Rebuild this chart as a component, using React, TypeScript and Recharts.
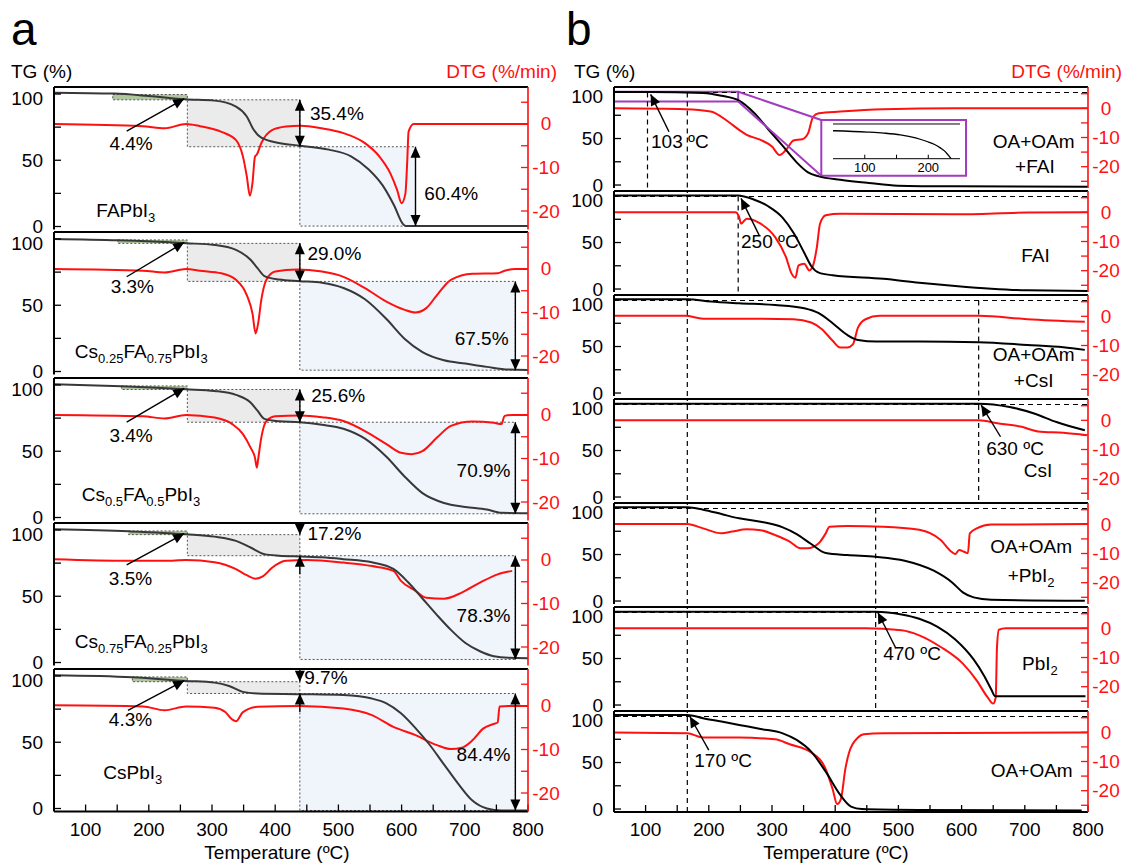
import React from "react";
import {
  ComposedChart,
  LineChart,
  Line,
  XAxis,
  YAxis,
  ReferenceArea,
  ReferenceLine,
  ReferenceDot,
} from "recharts";

type Pt = [number, number];

const FONT = "'Liberation Sans', Arial, Helvetica, sans-serif";
const RED = "#ff1010";
const PURPLE = "#a23bbd";

// shared temperature axis
const X_DOMAIN: [number, number] = [50, 800];
const X_TICKS = [100, 150, 200, 250, 300, 350, 400, 450, 500, 550, 600, 650, 700, 750, 800];
const TG_TICKS = [0, 25, 50, 75, 100];

// ---------- panel a : TG / DTG of the perovskites ----------
const FAPBI3_TG: Pt[] = [[50, 101], [145, 100.3], [200, 98.5], [258, 96], [304, 95], [338, 90.5], [355, 83], [366, 73], [378, 67], [406, 63], [440, 61], [485, 58], [520, 53], [548, 43], [570, 31], [588, 16], [602, 2], [607, 0.3], [800, 0.3]];
const FAPBI3_DTG: Pt[] = [[50, 0], [190, -0.5], [225, -1], [259, 0], [281, -0.5], [315, -1.8], [338, -3.7], [349, -7.5], [355, -12], [360, -16.5], [364, -13.6], [368, -7.5], [371, -7], [378, -4.4], [395, -1.4], [417, -0.6], [440, -0.4], [474, -1], [508, -2.1], [542, -4.4], [565, -7.5], [582, -11.3], [593, -15.2], [600, -18.2], [606, -16], [609, -8.3], [611, -1.8], [619, 0], [800, 0]];
const CS25_TG: Pt[] = [[50, 100], [151, 99], [259, 96.8], [304, 95.5], [338, 91.8], [361, 84.3], [372, 78], [383, 72], [406, 69.4], [439, 68.2], [474, 67], [508, 63], [542, 54.5], [576, 39.6], [605, 24.6], [633, 14.7], [667, 8.5], [701, 6], [735, 3.5], [769, 1.5], [800, 1.2]];
const CS25_DTG: Pt[] = [[50, 0], [191, -0.4], [225, -0.8], [259, 0], [281, -0.4], [315, -1], [338, -2.5], [355, -6], [364, -10.2], [369, -14.8], [373, -12.5], [378, -7.1], [386, -2.5], [400, -0.6], [434, -0.1], [474, -0.6], [508, -1.8], [542, -4.4], [576, -7.5], [605, -9.4], [622, -10], [639, -9], [656, -6], [678, -2.5], [712, -1.1], [752, -1], [763, -0.4], [780, 0], [800, 0]];
const CS50_TG: Pt[] = [[50, 100.5], [157, 99], [259, 96.8], [304, 95.5], [338, 92.5], [361, 86.8], [372, 80.6], [383, 74.4], [406, 72.6], [439, 71.9], [474, 70], [508, 67], [542, 59.5], [576, 45.8], [605, 30.8], [633, 18.4], [667, 11], [701, 8], [735, 6], [758, 3.5], [800, 3.3]];
const CS50_DTG: Pt[] = [[50, 0], [191, -0.3], [225, -0.8], [259, 0], [304, -0.6], [332, -2.1], [349, -4.4], [361, -7.5], [368, -9.8], [371, -12.1], [373, -10.2], [378, -5.2], [386, -1.4], [400, -0.3], [440, -0.1], [474, -0.5], [508, -1.4], [542, -3.7], [576, -6.7], [599, -8.7], [616, -9], [633, -8.3], [656, -5.2], [678, -2.5], [712, -1.5], [746, -1.8], [758, -2.1], [763, -0.2], [775, 0], [800, 0]];
const CS75_TG: Pt[] = [[50, 100.5], [168, 99], [259, 96.8], [304, 95], [338, 91.8], [361, 86.8], [383, 81.8], [406, 80.6], [439, 80], [474, 79.4], [508, 78], [553, 75.6], [587, 70.6], [610, 60.7], [633, 48.3], [656, 35.8], [678, 24.6], [701, 14.7], [724, 8.5], [746, 4.7], [769, 3.5], [800, 3.3]];
const CS75_DTG: Pt[] = [[50, 0.15], [168, -0.2], [225, -0.2], [259, 0], [304, -0.5], [338, -2.1], [355, -3.5], [369, -4.3], [381, -3.7], [395, -1.8], [417, -0.2], [451, 0], [508, -0.6], [553, -1.4], [587, -2.5], [599, -4.8], [622, -7.1], [639, -8.7], [667, -8.9], [695, -7.5], [724, -5.2], [752, -3.3], [775, -2.5]];
const CSPBI3_TG: Pt[] = [[50, 100.5], [174, 99], [259, 96.3], [304, 95], [327, 92.5], [349, 88], [372, 86.8], [439, 86.3], [508, 85.6], [553, 83], [576, 79.4], [599, 71.9], [622, 60.7], [644, 48.3], [667, 33.3], [690, 18.4], [712, 6], [735, 0], [758, -1.5], [800, -1.5]];
const CSPBI3_DTG: Pt[] = [[50, 0.15], [191, -0.1], [225, -1], [259, -0.1], [304, -0.4], [321, -1.4], [332, -3.1], [338, -3.5], [349, -1.4], [372, -0.2], [439, 0], [508, -0.6], [553, -2.1], [587, -4.8], [622, -6.7], [656, -9], [678, -9.9], [695, -9.6], [712, -7.9], [729, -5.2], [746, -4.1], [752, -3.8], [755, -0.1], [769, 0], [800, 0]];

const A_TG = [FAPBI3_TG, CS25_TG, CS50_TG, CS75_TG, CSPBI3_TG];
const A_DTG = [FAPBI3_DTG, CS25_DTG, CS50_DTG, CS75_DTG, CSPBI3_DTG];
const A_NAMES = ["FAPbI_{3}", "Cs_{0.25}FA_{0.75}PbI_{3}", "Cs_{0.5}FA_{0.5}PbI_{3}", "Cs_{0.75}FA_{0.25}PbI_{3}", "CsPbI_{3}"];
const A_LOSS1 = ["4.4%", "3.3%", "3.4%", "3.5%", "4.3%"];
const A_LOSS2 = ["35.4%", "29.0%", "25.6%", "17.2%", "9.7%"];
const A_LOSS3 = ["60.4%", "67.5%", "70.9%", "78.3%", "84.4%"];
// step levels (TG %) and temperatures of the marked regions
const A_GREEN_T0 = [143, 151, 157, 168, 174];
const A_STEP_T = [261, 439];
const A_END_T = [622, 780, 780, 780, 780];
const A_LEVEL0 = [99.6, 99.3, 99.3, 99.3, 99.3];
const A_LEVEL1 = [95.6, 96.7, 96.6, 96.5, 95.7];
const A_LEVEL2 = [60.2, 68.0, 71.9, 80.6, 86.8];
const A_LEVEL3 = [0.3, 1.0, 2.8, 2.3, -1.5];
const A_OUTSIDE = [false, false, false, true, true];
const A_ARROW_FROM: Pt[] = [[165, 72], [165, 71.5], [165, 72], [165, 73.6], [167, 74]];
const A_LOSS1_POS: Pt[] = [[172, 57.5], [174, 59], [172, 56.8], [171, 58.5], [171, 62.6]];
const A_LOSS2_POS: Pt[] = [[455, 80.4], [451, 84.2], [457, 87], [451, 92.5], [446, 94.1]];
const A_LOSS3_POS: Pt[] = [[636, 20], [684, 20], [687, 30.4], [687, 30.8], [687, 36.2]];
const A_NAME_POS: Pt[] = [[117, 7.4], [83, 10], [94, 12.8], [83, 10.7], [128, 22.4]];

// ---------- panel b : ligands and precursors ----------
const FAI_MIX_TG: Pt[] = [[50, 100], [106, 100], [191, 99], [220, 96], [248, 90.7], [271, 78], [294, 60], [317, 42], [339, 24.4], [357, 13.6], [374, 9.3], [408, 5.7], [453, 2.2], [499, -0.7], [590, -1.4], [800, -1.8]];
const FAI_MIX_DTG: Pt[] = [[50, 0], [163, -0.3], [203, -1.1], [231, -4.6], [248, -7.4], [260, -9.1], [282, -10.8], [300, -13.1], [312, -16], [322, -14.3], [334, -11], [348, -10.6], [357, -8.6], [365, -2.9], [374, -1.7], [408, -1.1], [476, -0.3], [590, 0], [800, 0]];
const FAI_TG: Pt[] = [[50, 100.6], [246, 100.6], [271, 96.3], [294, 89], [317, 76.6], [334, 60.5], [351, 39], [362, 24.8], [374, 17.6], [396, 14.8], [476, 11], [533, 6.8], [590, 3.3], [647, 0.4], [704, -1.4], [800, -2]];
const FAI_DTG: Pt[] = [[50, 0], [242, 0], [248, -1.6], [251, -3.9], [260, -2.2], [282, -3.9], [305, -8.5], [322, -15.3], [331, -21], [337, -22.4], [342, -18.2], [351, -17.6], [359, -19.9], [365, -18.2], [371, -11.9], [376, -3.9], [385, -1], [408, -0.5], [590, -0.7], [704, -0.1], [800, 0]];
const CSI_MIX_TG: Pt[] = [[50, 100.8], [166, 100.8], [203, 98.3], [248, 96.5], [305, 94.7], [351, 91.1], [374, 85.8], [396, 75], [419, 62.5], [436, 57], [465, 55.3], [533, 55.3], [627, 54.6], [704, 51.7], [761, 49.2], [795, 46.4]];
const CSI_MIX_DTG: Pt[] = [[50, 0.15], [163, 0.15], [191, -0.8], [248, -0.8], [334, -1], [362, -2.1], [379, -4.4], [396, -8.4], [408, -10.7], [419, -10.7], [428, -9.6], [436, -3.9], [448, -1], [470, 0.15], [627, 0.15], [704, -1], [795, -1.9]];
const CSI_TG: Pt[] = [[50, 100.4], [627, 100.4], [676, 96.8], [716, 89.6], [750, 80.6], [795, 71.7]];
const CSI_DTG: Pt[] = [[50, 0], [627, 0], [659, -1.1], [693, -2.1], [721, -3.8], [761, -4.3], [798, -5.1]];
const PBI2_MIX_TG: Pt[] = [[50, 100.7], [166, 100.7], [191, 98.2], [220, 93.5], [248, 88.9], [282, 85.3], [317, 79.2], [339, 72], [362, 61.3], [385, 51.6], [419, 49.4], [464, 47.6], [510, 43.4], [556, 32.6], [585, 20], [602, 9.3], [619, 3.9], [647, 1.4], [795, 0.3]];
const PBI2_MIX_DTG: Pt[] = [[50, 0.1], [166, 0.1], [191, -1.4], [220, -3.1], [237, -2.5], [260, -1.7], [282, -2], [305, -3.7], [328, -5.9], [345, -8.2], [356, -8.2], [374, -6.5], [385, -3.1], [391, -0.8], [419, -0.6], [476, -0.8], [533, -1.9], [567, -5.4], [584, -9.4], [590, -10.2], [596, -8.8], [604, -9.4], [610, -9.9], [613, -3.1], [624, -1.4], [647, -0.1], [800, 0.1]];
const PBI2_TG: Pt[] = [[50, 100.2], [464, 100.2], [505, 97.3], [533, 92.7], [562, 84], [590, 70.5], [619, 49], [636, 31], [647, 16.7], [653, 9.5], [796, 9.5]];
const PBI2_DTG: Pt[] = [[50, 0], [448, 0], [505, -0.7], [533, -2.4], [567, -6.4], [602, -12.1], [624, -17.9], [641, -23.6], [650, -25.8], [654, -23.6], [656, -6.4], [659, -0.5], [670, 0], [800, 0]];
const OA_TG: Pt[] = [[50, 101.2], [166, 101.2], [191, 97.6], [220, 94], [248, 90.4], [282, 86.1], [317, 81.4], [339, 74.3], [362, 61.7], [385, 40.2], [408, 15.1], [425, 2.6], [442, 0], [533, -1], [790, -1.7]];
const OA_DTG: Pt[] = [[50, -0.1], [166, -0.3], [191, -1.8], [248, -1.8], [305, -2.4], [328, -4.1], [362, -6.9], [385, -12.6], [396, -19.5], [403, -24.6], [409, -22.9], [416, -12.6], [422, -6.9], [436, -1.8], [445, -0.7], [476, -0.3], [800, -0.1]];

const B_TG = [FAI_MIX_TG, FAI_TG, CSI_MIX_TG, CSI_TG, PBI2_MIX_TG, PBI2_TG, OA_TG];
const B_DTG = [FAI_MIX_DTG, FAI_DTG, CSI_MIX_DTG, CSI_DTG, PBI2_MIX_DTG, PBI2_DTG, OA_DTG];
const B_NAMES = [["OA+OAm", "+FAI"], ["FAI"], ["OA+OAm", "+CsI"], ["CsI"], ["OA+OAm", "+PbI_{2}"], ["PbI_{2}"], ["OA+OAm"]];
const B_NAME_POS: Pt[][] = [[[714, 39.5], [716, 12.6]], [[717, 29.4]], [[714, 34.7], [714, 6.8]], [[721, 21.8]], [[710, 51.3], [710, 20.1]], [[724, 37.6]], [[711, 34.1]]];
const B_ONSET = ["103 ºC", "250 ºC", "", "630 ºC", "", "470 ºC", "170 ºC"];
const B_ONSET_POS: (Pt | null)[] = [[108.6, 39.5], [251, 43.8], null, [639, 45.2], null, [476, 48.4], [177, 45.5]];
const B_ARROWS: (number[] | null)[] = [[137, 57.3, 108, 97.5], [279.6, 58, 251, 97.5], null, [661.6, 64.8, 631, 98.9], null, [496, 61, 467.5, 99.5], [200, 63.4, 170, 99.5]];
const B_DASH = 99.5;
const B_VLINE_T = [103, 166, 246.5, 627, 464];
const B_VLINE_FIRST = [0, 0, 1, 2, 4];
const B_VLINE_LAST = [0, 6, 1, 3, 5];
// zoom box, inset frame and inset data (OA+OAm+FAI, 50-250 ºC)
const ZOOM_BOX = [50, 246.5, 89.8, 100.3];
const OUTER_BOX = [378, 607, 10, 69.9];
const INSET_T = [396, 597];
const INSET_TG: Pt[] = [[50, 99.3], [104, 98.9], [130, 98.6], [156, 98.1], [180, 97.2], [198, 96.1], [210, 95.2], [219, 94.2], [225, 93.4], [230, 92.4], [236, 91]];

// ---------- layout ----------
const LW = 54;
const PAD = 3;
const PAD_B = 14;
const A_LEFT = 54, A_W = 474, A_RW = 40, A_TOP0 = 87, A_STEP = 145.4, A_H = 142.5;
const B_LEFT = 614, B_W = 474, B_RW = 36, B_TOP0 = 87, B_STEP = 104, B_H = 101;
const A_TG_DOMAIN: [number, number] = [-2.26, 105.28];
const A_DTG_DOMAIN: [number, number] = [-24.25, 8.5];
const B_TG_DOMAIN: [number, number] = [-3.2, 105.4];
const B_DTG_DOMAIN: [number, number] = [-27.3, 7.3];

const pts = (a: Pt[]) => a.map(([t, v]) => ({ t, v }));

function rich(s: string, size: number) {
  const parts = s.split(/_\{([^}]*)\}/);
  const out: React.ReactNode[] = [];
  let sub = false;
  parts.forEach((p, k) => {
    if (!p) return;
    const isSub = k % 2 === 1;
    const dy = isSub && !sub ? 5 : !isSub && sub ? -5 : 0;
    sub = isSub;
    out.push(
      <tspan key={k} dy={dy} fontSize={isSub ? Math.round(size * 0.68) : size}>
        {p}
      </tspan>
    );
  });
  return out;
}

function head(xa: number, ya: number, xb: number, yb: number) {
  const a = Math.atan2(yb - ya, xb - xa);
  const L = 11, W = 5;
  const bx = xb - L * Math.cos(a), by = yb - L * Math.sin(a);
  const px = -Math.sin(a) * W, py = Math.cos(a) * W;
  return <polygon points={`${xb},${yb} ${bx + px},${by + py} ${bx - px},${by - py}`} fill="#000" />;
}

const arrowShape = (both: boolean) => (p: any) => (
  <g>
    <line x1={p.x1} y1={p.y1} x2={p.x2} y2={p.y2} stroke="#000" strokeWidth={1.4} />
    {head(p.x1, p.y1, p.x2, p.y2)}
    {both ? head(p.x2, p.y2, p.x1, p.y1) : null}
  </g>
);

function arrow(key: string, x1: number, y1: number, x2: number, y2: number, both = false) {
  return (
    <ReferenceLine
      key={key}
      yAxisId="tg"
      segment={[{ x: x1, y: y1 }, { x: x2, y: y2 }]}
      ifOverflow="visible"
      shape={arrowShape(both)}
    />
  );
}

function note(key: string, x: number, y: number, text: string, anchor = "start", size = 19) {
  return (
    <ReferenceDot
      key={key}
      yAxisId="tg"
      x={x}
      y={y}
      r={1}
      ifOverflow="visible"
      shape={(p: any) => (
        <text x={p.cx} y={p.cy} dy={7} textAnchor={anchor} fontSize={size} fontFamily={FONT} fill="#000">
          {rich(text, size)}
        </text>
      )}
    />
  );
}

const XTick = (p: any) =>
  p.payload.value % 100 === 0 ? (
    <text x={p.x} y={p.y} dy={24} textAnchor="middle" fontSize={19} fontFamily={FONT} fill="#000">
      {p.payload.value}
    </text>
  ) : (
    <g />
  );

const TgTick = (p: any) => {
  const v = p.payload.value;
  if (v % 50 !== 0) return <g />;
  return (
    <text x={p.x - 11} y={p.y} dy={v === 100 ? 11 : 6.5} textAnchor="end" fontSize={19} fontFamily={FONT} fill="#000">
      {v}
    </text>
  );
};

const DtgTick = (p: any) => {
  const v = p.payload.value;
  if (v % 10 !== 0) return <g />;
  return (
    <text x={p.x + 18} y={p.y} dy={6.5} textAnchor="middle" fontSize={19} fontFamily={FONT} fill={RED}>
      {v}
    </text>
  );
};

function axes(last: boolean, xh: number, tgDomain: [number, number], dtgDomain: [number, number], dtgTicks: number[], rw: number) {
  return [
    <XAxis
      key="x"
      type="number"
      dataKey="t"
      domain={X_DOMAIN}
      ticks={X_TICKS}
      interval={0}
      allowDataOverflow
      height={xh}
      tickSize={-7}
      tickMargin={7}
      tick={last ? XTick : false}
      axisLine={{ stroke: "#000", strokeWidth: 2 }}
      tickLine={{ stroke: "#000", strokeWidth: 1.3 }}
    />,
    <YAxis
      key="tg"
      yAxisId="tg"
      type="number"
      domain={tgDomain}
      ticks={TG_TICKS}
      interval={0}
      allowDataOverflow
      width={LW}
      tickSize={-7}
      tickMargin={7}
      tick={TgTick}
      axisLine={{ stroke: "#000", strokeWidth: 2 }}
      tickLine={{ stroke: "#000", strokeWidth: 1.3 }}
    />,
    <YAxis
      key="dtg"
      yAxisId="dtg"
      orientation="right"
      type="number"
      domain={dtgDomain}
      ticks={dtgTicks}
      interval={0}
      allowDataOverflow
      width={rw}
      tickSize={-7}
      tickMargin={7}
      tick={DtgTick}
      axisLine={{ stroke: RED, strokeWidth: 1.6 }}
      tickLine={{ stroke: RED, strokeWidth: 1.3 }}
    />,
  ];
}

function SubplotA({ i }: { i: number }) {
  const top = A_TOP0 + i * A_STEP;
  const last = i === A_TG.length - 1;
  const xh = last ? 34 : 0;
  const [t1, t2] = A_STEP_T;
  const tEnd = A_END_T[i];
  const l0 = A_LEVEL0[i], l1 = A_LEVEL1[i], l2 = A_LEVEL2[i], l3 = A_LEVEL3[i];
  const border = { stroke: "#555", strokeDasharray: "2 2", strokeWidth: 1, fillOpacity: 1 };
  return (
    <div style={{ position: "absolute", left: A_LEFT - LW, top: top - PAD }}>
      <ComposedChart
        width={LW + A_W + A_RW}
        height={PAD + PAD_B + A_H + xh}
        margin={{ top: PAD, right: 0, bottom: PAD_B, left: 0 }}
      >
        {axes(last, xh, A_TG_DOMAIN, A_DTG_DOMAIN, [5, 0, -5, -10, -15, -20], A_RW)}
        <ReferenceArea yAxisId="tg" x1={A_GREEN_T0[i]} x2={t1} y1={l1} y2={l0} fill="#aec79d" {...border} />
        <ReferenceArea yAxisId="tg" x1={t1} x2={t2} y1={l2} y2={l1} fill="#ebebeb" {...border} />
        <ReferenceArea yAxisId="tg" x1={t2} x2={tEnd} y1={l3} y2={l2} fill="#f0f4fb" {...border} />
        <ReferenceLine yAxisId="tg" y={A_TG_DOMAIN[1]} stroke="#000" strokeWidth={2} />
        <Line yAxisId="dtg" data={pts(A_DTG[i])} dataKey="v" type="monotone" stroke={RED} strokeWidth={2} dot={false} isAnimationActive={false} />
        <Line yAxisId="tg" data={pts(A_TG[i])} dataKey="v" type="monotone" stroke="#383838" strokeWidth={2} dot={false} isAnimationActive={false} />
        {arrow("a1", A_ARROW_FROM[i][0], A_ARROW_FROM[i][1], t1 - 5, l1 + 0.8)}
        {A_OUTSIDE[i]
          ? [arrow("a2u", t2, A_TG_DOMAIN[1], t2, l1), arrow("a2d", t2, l2 - 14, t2, l2)]
          : [arrow("a2", t2, l1, t2, l2, true)]}
        {arrow("a3", tEnd, l2, tEnd, l3, true)}
        {note("n1", A_LOSS1_POS[i][0], A_LOSS1_POS[i][1], A_LOSS1[i], "middle")}
        {note("n2", A_LOSS2_POS[i][0], A_LOSS2_POS[i][1], A_LOSS2[i])}
        {note("n3", A_LOSS3_POS[i][0], A_LOSS3_POS[i][1], A_LOSS3[i])}
        {note("nm", A_NAME_POS[i][0], A_NAME_POS[i][1], A_NAMES[i])}
      </ComposedChart>
    </div>
  );
}

function SubplotB({ i }: { i: number }) {
  const top = B_TOP0 + i * B_STEP;
  const last = i === B_TG.length - 1;
  const xh = last ? 34 : 0;
  const vlines: React.ReactNode[] = [];
  B_VLINE_T.forEach((t, k) => {
    if (i < B_VLINE_FIRST[k] || i > B_VLINE_LAST[k]) return;
    if (i === B_VLINE_FIRST[k]) {
      vlines.push(
        <ReferenceLine key={`v${k}`} yAxisId="tg" segment={[{ x: t, y: B_DASH }, { x: t, y: B_TG_DOMAIN[0] }]} stroke="#000" strokeWidth={1.2} strokeDasharray="5 4" />
      );
    } else {
      vlines.push(<ReferenceLine key={`v${k}`} yAxisId="tg" x={t} stroke="#000" strokeWidth={1.2} strokeDasharray="5 4" />);
    }
  });
  const ar = B_ARROWS[i];
  const op = B_ONSET_POS[i];
  return (
    <div style={{ position: "absolute", left: B_LEFT - LW, top: top - PAD }}>
      <ComposedChart
        width={LW + B_W + B_RW}
        height={PAD + PAD_B + B_H + xh}
        margin={{ top: PAD, right: 0, bottom: PAD_B, left: 0 }}
      >
        {axes(last, xh, B_TG_DOMAIN, B_DTG_DOMAIN, [5, 0, -5, -10, -15, -20, -25], B_RW)}
        {i === 0 ? (
          <ReferenceArea yAxisId="tg" x1={OUTER_BOX[0]} x2={OUTER_BOX[1]} y1={OUTER_BOX[2]} y2={OUTER_BOX[3]} fill="#fff" fillOpacity={1} stroke={PURPLE} strokeWidth={2} />
        ) : null}
        <ReferenceLine yAxisId="tg" y={B_TG_DOMAIN[1]} stroke="#000" strokeWidth={2} />
        <ReferenceLine yAxisId="tg" y={B_DASH} stroke="#000" strokeWidth={1.2} strokeDasharray="5 4" />
        {vlines}
        <Line yAxisId="dtg" data={pts(B_DTG[i])} dataKey="v" type="monotone" stroke={RED} strokeWidth={2} dot={false} isAnimationActive={false} />
        <Line yAxisId="tg" data={pts(B_TG[i])} dataKey="v" type="monotone" stroke="#000" strokeWidth={2} dot={false} isAnimationActive={false} />
        {i === 0
          ? [
              <ReferenceArea key="zb" yAxisId="tg" x1={ZOOM_BOX[0]} x2={ZOOM_BOX[1]} y1={ZOOM_BOX[2]} y2={ZOOM_BOX[3]} fill="none" fillOpacity={0} stroke={PURPLE} strokeWidth={2} ifOverflow="visible" />,
              <ReferenceLine key="c1" yAxisId="tg" segment={[{ x: ZOOM_BOX[1], y: ZOOM_BOX[3] }, { x: OUTER_BOX[0], y: OUTER_BOX[3] }]} stroke={PURPLE} strokeWidth={2} />,
              <ReferenceLine key="c2" yAxisId="tg" segment={[{ x: ZOOM_BOX[1], y: ZOOM_BOX[2] }, { x: OUTER_BOX[0], y: OUTER_BOX[2] }]} stroke={PURPLE} strokeWidth={2} />,
            ]
          : null}
        {ar ? arrow("ar", ar[0], ar[1], ar[2], ar[3]) : null}
        {op ? note("on", op[0], op[1], B_ONSET[i]) : null}
        {B_NAMES[i].map((s, k) => note(`nm${k}`, B_NAME_POS[i][k][0], B_NAME_POS[i][k][1], s, "middle"))}
      </ComposedChart>
    </div>
  );
}

const InsetTick = (p: any) =>
  p.payload.value === 150 ? (
    <g />
  ) : (
    <text x={p.x} y={p.y} dy={13} textAnchor="middle" fontSize={13} fontFamily={FONT} fill="#000">
      {p.payload.value}
    </text>
  );

function Inset() {
  const sx = B_W / (X_DOMAIN[1] - X_DOMAIN[0]);
  const left = B_LEFT + (INSET_T[0] - X_DOMAIN[0]) * sx;
  const width = (INSET_T[1] - INSET_T[0]) * sx;
  const top = 124.3, h = 34.7;
  return (
    <div style={{ position: "absolute", left: left - 1, top: top - 1 }}>
      <LineChart width={width + 2} height={h + 2 + 16} margin={{ top: 1, right: 1, bottom: 1, left: 1 }}>
        <XAxis type="number" dataKey="t" domain={[50, 250]} ticks={[100, 150, 200]} interval={0} allowDataOverflow height={16} tickSize={-4} tickMargin={4} tick={InsetTick} axisLine={{ stroke: "#000" }} tickLine={{ stroke: "#000" }} />
        <YAxis type="number" domain={[91, 101.3]} ticks={[95]} interval={0} allowDataOverflow width={0} tickSize={-4} tick={false} axisLine={{ stroke: "#000" }} tickLine={{ stroke: "#000" }} />
        <YAxis yAxisId="r" orientation="right" type="number" domain={[91, 101.3]} width={0} tick={false} tickLine={false} axisLine={{ stroke: "#000" }} />
        <ReferenceLine y={101.3} stroke="#000" />
        <Line data={pts(INSET_TG)} dataKey="v" type="monotone" stroke="#000" strokeWidth={1.3} dot={false} isAnimationActive={false} />
      </LineChart>
    </div>
  );
}

export default function App() {
  const t = { fontFamily: FONT, fontSize: 19 };
  return (
    <div style={{ position: "absolute", left: 0, top: 0, width: 1124, height: 864, background: "#fff", overflow: "hidden" }}>
      {A_TG.map((_, i) => (
        <SubplotA key={`a${i}`} i={i} />
      ))}
      {B_TG.map((_, i) => (
        <SubplotB key={`b${i}`} i={i} />
      ))}
      <Inset />
      <svg width={1124} height={864} style={{ position: "absolute", left: 0, top: 0, pointerEvents: "none" }}>
        <text x={11} y={45} fontFamily={FONT} fontSize={46}>a</text>
        <text x={566} y={45} fontFamily={FONT} fontSize={46}>b</text>
        <text x={11} y={78} {...t}>TG (%)</text>
        <text x={557} y={78} {...t} fill={RED} textAnchor="end">DTG (%/min)</text>
        <text x={574} y={78} {...t}>TG (%)</text>
        <text x={1122} y={78} {...t} fill={RED} textAnchor="end">DTG (%/min)</text>
        <text x={277} y={859} {...t} textAnchor="middle">Temperature (ºC)</text>
        <text x={836} y={859} {...t} textAnchor="middle">Temperature (ºC)</text>
      </svg>
    </div>
  );
}
